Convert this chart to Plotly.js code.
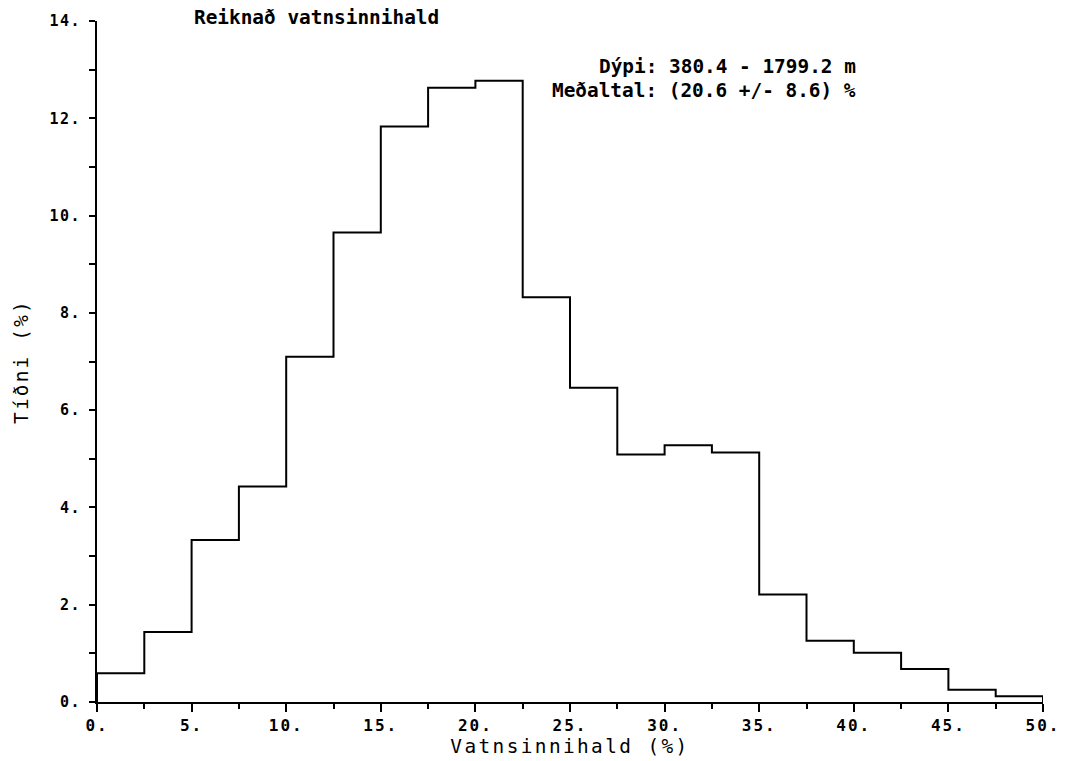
<!DOCTYPE html>
<html>
<head>
<meta charset="utf-8">
<script src="https://cdn.plot.ly/plotly-3.0.1.min.js"></script>
<style>
  html, body { margin: 0; padding: 0; background: #fff; }
  #chart { width: 1077px; height: 761px; }
  g.ytick > text { letter-spacing: 1.5px; }
  g.xtick > text { letter-spacing: 2px; }
  text.xtitle { letter-spacing: 2.4px; }
  text.ytitle { letter-spacing: 2.2px; }
</style>
</head>
<body>
<div id="chart"></div>
<script>
// Histogram of computed water content (bin width 2.5 %)
const binEdges = [0, 2.5, 5, 7.5, 10, 12.5, 15, 17.5, 20, 22.5, 25,
                  27.5, 30, 32.5, 35, 37.5, 40, 42.5, 45, 47.5, 50];
const frequency = [0.59, 1.44, 3.33, 4.43, 7.10, 9.65, 11.83, 12.63, 12.77, 8.32,
                   6.46, 5.09, 5.28, 5.13, 2.21, 1.26, 1.01, 0.68, 0.25, 0.12];

const titleText = "Reiknað vatnsinnihald";
const xTitle = "Vatnsinnihald (%)";
const yTitle = "Tíðni (%)";
const depthText = "Dýpi: 380.4 - 1799.2 m";
const meanText = "Meðaltal: (20.6 +/- 8.6) %";

// Build step outline from the bins
const stepX = [binEdges[0]];
const stepY = [0];
for (let i = 0; i < frequency.length; i++) {
  stepX.push(binEdges[i]);
  stepY.push(frequency[i]);
}
stepX.push(binEdges[binEdges.length - 1]);
stepY.push(frequency[frequency.length - 1]);
stepX.push(binEdges[binEdges.length - 1]);
stepY.push(0);

const mono = "DejaVu Sans Mono, monospace";

const trace = {
  type: "scatter",
  mode: "lines",
  x: stepX,
  y: stepY,
  line: { shape: "hv", color: "#000", width: 2 },
  hoverinfo: "skip",
  showlegend: false
};

const layout = {
  width: 1077,
  height: 761,
  paper_bgcolor: "#fff",
  plot_bgcolor: "#fff",
  margin: { l: 97, r: 34, t: 21, b: 59 },
  showlegend: false,
  title: {
    text: titleText,
    xref: "container", yref: "container",
    x: 194 / 1077, xanchor: "left",
    y: 1 - 17 / 761, yanchor: "middle",
    font: { family: mono, size: 19.4, color: "#000", weight: "bold" }
  },
  xaxis: {
    range: [0, 50],
    dtick: 5, tick0: 0,
    ticksuffix: ".",
    ticks: "outside", ticklen: 8, tickwidth: 2, tickcolor: "#000",
    minor: { dtick: 2.5, ticks: "outside", ticklen: 5, tickwidth: 2, tickcolor: "#000" },
    showline: true, linecolor: "#000", linewidth: 2,
    showgrid: false, zeroline: false,
    tickfont: { family: mono, size: 16, color: "#000", weight: "bold" },
    ticklabelstandoff: 0,
    title: { text: xTitle, font: { family: mono, size: 19.4, color: "#000" }, standoff: 4 },
    automargin: false
  },
  yaxis: {
    range: [0, 14],
    dtick: 2, tick0: 0,
    ticksuffix: ".",
    ticks: "outside", ticklen: 6, tickwidth: 2, tickcolor: "#000",
    minor: { dtick: 1, ticks: "outside", ticklen: 6, tickwidth: 2, tickcolor: "#000" },
    showline: true, linecolor: "#000", linewidth: 2,
    showgrid: false, zeroline: false,
    tickfont: { family: mono, size: 15, color: "#000", weight: "bold" },
    ticklabelstandoff: 5,
    title: { text: yTitle, font: { family: mono, size: 19.4, color: "#000" }, standoff: 16 },
    automargin: false
  },
  annotations: [
    {
      text: depthText, xref: "paper", yref: "paper",
      x: (858 - 97) / 946, xanchor: "right", align: "right",
      y: (702 - 66.7) / 681, yanchor: "middle",
      showarrow: false,
      font: { family: mono, size: 19.4, color: "#000", weight: "bold" }
    },
    {
      text: meanText, xref: "paper", yref: "paper",
      x: (858 - 97) / 946, xanchor: "right", align: "right",
      y: (702 - 90.7) / 681, yanchor: "middle",
      showarrow: false,
      font: { family: mono, size: 19.4, color: "#000", weight: "bold" }
    }
  ]
};

Plotly.newPlot("chart", [trace], layout, { displayModeBar: false, staticPlot: true });
</script>
</body>
</html>
